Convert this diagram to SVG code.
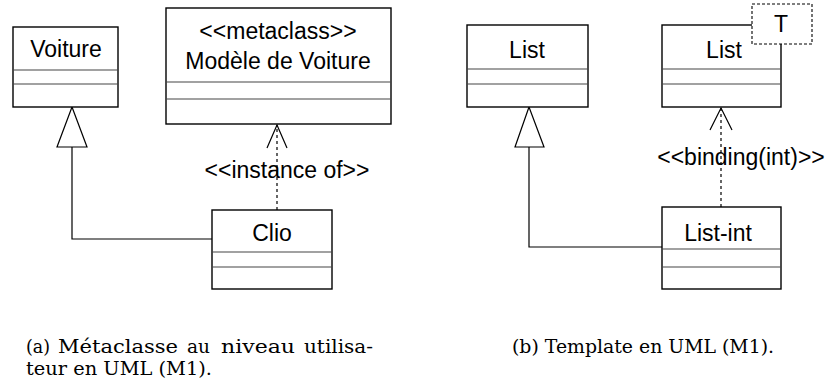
<svg xmlns="http://www.w3.org/2000/svg" width="832" height="386" viewBox="0 0 832 386">
<style>
.box{fill:#fff;stroke:#000;stroke-width:1.4}
.div{stroke:#444;stroke-width:1.2;fill:none}
.t{font-family:"Liberation Sans",Arial,sans-serif;font-size:23px;fill:#000;text-anchor:middle}
.line{stroke:#000;stroke-width:1.2;fill:none}
.dash{stroke:#000;stroke-width:1.2;fill:none;stroke-dasharray:3,3}
.tri{fill:#fff;stroke:#000;stroke-width:1.2}
.cap{font-family:"DejaVu Serif","Liberation Serif",serif;font-size:18px;fill:#000}
</style>
<rect width="832" height="386" fill="#fff"/>
<g id="connectors">
<polyline class="line" points="72,147 72,239 212,239"/>
<polygon class="tri" points="72,107 57,147 87,147"/>
<line class="dash" x1="277" y1="210" x2="277" y2="125"/>
<polyline class="line" points="267,148 277,125 287,148"/>
<polyline class="line" points="529,147 529,247 662,247"/>
<polygon class="tri" points="529,107 515,147 544,147"/>
<line class="dash" x1="721" y1="207" x2="721" y2="108"/>
<polyline class="line" points="710,130 721,108 732,130"/>
</g>
<g id="label-instance"><text class="t" x="287" y="178">&lt;&lt;instance of&gt;&gt;</text></g>
<g id="label-binding"><text class="t" x="741" y="165">&lt;&lt;binding(int)&gt;&gt;</text></g>
<g id="voiture">
<rect class="box" x="13" y="27" width="105" height="80"/>
<line class="div" x1="13" y1="70" x2="118" y2="70"/>
<line class="div" x1="13" y1="84" x2="118" y2="84"/>
<text class="t" x="66" y="57">Voiture</text>
</g>
<g id="modele">
<rect class="box" x="166" y="8" width="225" height="116"/>
<line class="div" x1="166" y1="82" x2="391" y2="82"/>
<line class="div" x1="166" y1="99" x2="391" y2="99"/>
<text class="t" x="278" y="39">&lt;&lt;metaclass&gt;&gt;</text>
<text class="t" x="278" y="69">Modèle de Voiture</text>
</g>
<g id="clio">
<rect class="box" x="212" y="210" width="120" height="79"/>
<line class="div" x1="212" y1="252" x2="332" y2="252"/>
<line class="div" x1="212" y1="267" x2="332" y2="267"/>
<text class="t" x="272" y="241">Clio</text>
</g>
<g id="list">
<rect class="box" x="467" y="25" width="121" height="82"/>
<line class="div" x1="467" y1="69" x2="588" y2="69"/>
<line class="div" x1="467" y1="84" x2="588" y2="84"/>
<text class="t" x="527" y="58">List</text>
</g>
<g id="list-template">
<rect class="box" x="662" y="25" width="119" height="82"/>
<line class="div" x1="662" y1="69" x2="781" y2="69"/>
<line class="div" x1="662" y1="84" x2="781" y2="84"/>
<text class="t" x="724" y="58">List</text>
<rect x="752" y="4" width="60" height="40" fill="#fff" stroke="#000" stroke-width="1.1" stroke-dasharray="3,2"/>
<text class="t" x="781" y="32">T</text>
</g>
<g id="list-int">
<rect class="box" x="662" y="207" width="119" height="82"/>
<line class="div" x1="662" y1="249" x2="781" y2="249"/>
<line class="div" x1="662" y1="267" x2="781" y2="267"/>
<text class="t" x="718" y="241">List-int</text>
</g>
<g id="captions">
<text class="cap" y="353"><tspan x="26" textLength="24" lengthAdjust="spacingAndGlyphs">(a)</tspan><tspan x="58" textLength="120" lengthAdjust="spacingAndGlyphs">Métaclasse</tspan><tspan x="187" textLength="23" lengthAdjust="spacingAndGlyphs">au</tspan><tspan x="221" textLength="74" lengthAdjust="spacingAndGlyphs">niveau</tspan><tspan x="304" textLength="69" lengthAdjust="spacingAndGlyphs">utilisa-</tspan></text>
<text class="cap" x="26" y="375" textLength="186" lengthAdjust="spacingAndGlyphs">teur en UML (M1).</text>
<text class="cap" x="512" y="353" textLength="262" lengthAdjust="spacingAndGlyphs">(b) Template en UML (M1).</text>
</g>
</svg>
